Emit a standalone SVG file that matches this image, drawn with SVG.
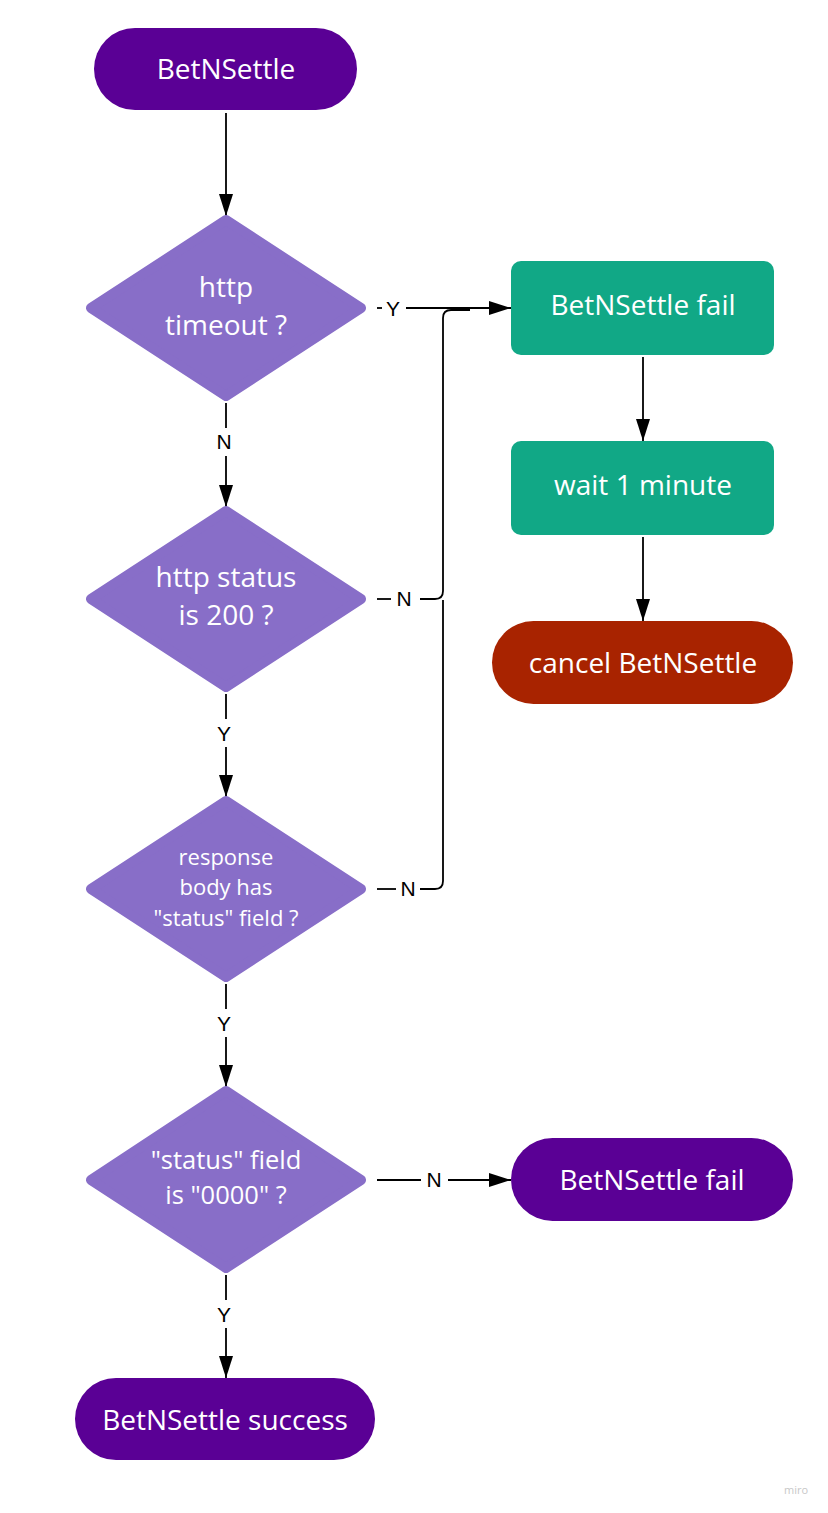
<svg xmlns="http://www.w3.org/2000/svg" width="828" height="1513" viewBox="0 0 828 1513">
<defs>
<style>
.t{font-family:"Open Sans","Liberation Sans",sans-serif;fill:#ffffff;text-anchor:middle}
.big{font-size:28px}
.md{font-size:25.5px}
.sm{font-size:22px}
.dia{fill:#886ec8;stroke:#886ec8;stroke-width:10;stroke-linejoin:round}
.dp{fill:#5a0095}
.teal{fill:#11a886}
.red{fill:#a82300}
.c{fill:none;stroke:#000;stroke-width:1.8}
.lb{font-family:"Liberation Sans",Arial,sans-serif;font-size:21px;fill:#000;text-anchor:middle}
</style>
<marker id="ah" viewBox="0 0 22 14" refX="22" refY="7" markerWidth="22" markerHeight="14" markerUnits="userSpaceOnUse" orient="auto">
<path d="M0,0 L22,7 L0,14 Z" fill="#000"/>
</marker>
</defs>
<rect width="828" height="1513" fill="#fff"/>
<g id="connectors">
<path class="c" d="M226,113 V216" marker-end="url(#ah)"/>
<path class="c" d="M226,403 V428"/>
<path class="c" d="M226,456 V507" marker-end="url(#ah)"/>
<path class="c" d="M226,694 V719"/>
<path class="c" d="M226,747 V797" marker-end="url(#ah)"/>
<path class="c" d="M226,984 V1009"/>
<path class="c" d="M226,1037 V1087" marker-end="url(#ah)"/>
<path class="c" d="M226,1275 V1300"/>
<path class="c" d="M226,1328 V1378" marker-end="url(#ah)"/>
<path class="c" d="M377,308 H382"/>
<path class="c" d="M406,308 H511" marker-end="url(#ah)"/>
<path class="c" d="M377,599 H391"/>
<path class="c" d="M420,599 H435 Q443,599 443,591 V318 Q443,310 451,310 H470"/>
<path class="c" d="M377,889 H396"/>
<path class="c" d="M420,889 H435 Q443,889 443,881 V600"/>
<path class="c" d="M377,1180 H421"/>
<path class="c" d="M448,1180 H511" marker-end="url(#ah)"/>
<path class="c" d="M643,357 V441" marker-end="url(#ah)"/>
<path class="c" d="M643,537 V621" marker-end="url(#ah)"/>
<text class="lb" x="224" y="449">N</text>
<text class="lb" x="224" y="741">Y</text>
<text class="lb" x="224" y="1031">Y</text>
<text class="lb" x="224" y="1322">Y</text>
<text class="lb" x="393" y="316">Y</text>
<text class="lb" x="404" y="606">N</text>
<text class="lb" x="408" y="896">N</text>
<text class="lb" x="434" y="1187">N</text>
</g>
<g id="start">
<rect class="dp" x="94" y="28" width="263" height="82" rx="41"/>
<text class="t big" x="226" y="79">BetNSettle</text>
</g>
<g id="d1">
<polygon class="dia" points="226,220 361,308 226,396 91,308"/>
<text class="t big" x="226" y="297">http</text>
<text class="t big" x="226" y="335">timeout ?</text>
</g>
<g id="d2">
<polygon class="dia" points="226,511 361,599 226,687 91,599"/>
<text class="t big" x="226" y="587">http status</text>
<text class="t big" x="226" y="625">is 200 ?</text>
</g>
<g id="d3">
<polygon class="dia" points="226,801 361,889 226,977 91,889"/>
<text class="t sm" x="226" y="865">response</text>
<text class="t sm" x="226" y="895">body has</text>
<text class="t sm" x="226" y="926">"status" field ?</text>
</g>
<g id="d4">
<polygon class="dia" points="226,1091 361,1180 226,1268 91,1180"/>
<text class="t md" x="226" y="1169">"status" field</text>
<text class="t md" x="226" y="1204">is "0000" ?</text>
</g>
<g id="fail1">
<rect class="teal" x="511" y="261" width="263" height="94" rx="10"/>
<text class="t big" x="643" y="315">BetNSettle fail</text>
</g>
<g id="wait">
<rect class="teal" x="511" y="441" width="263" height="94" rx="10"/>
<text class="t big" x="643" y="495">wait 1 minute</text>
</g>
<g id="cancel">
<rect class="red" x="492" y="621" width="301" height="83" rx="41.5"/>
<text class="t big" x="643" y="673">cancel BetNSettle</text>
</g>
<g id="fail2">
<rect class="dp" x="511" y="1138" width="282" height="83" rx="41.5"/>
<text class="t big" x="652" y="1190">BetNSettle fail</text>
</g>
<g id="success">
<rect class="dp" x="75" y="1378" width="300" height="82" rx="41"/>
<text class="t big" x="225" y="1430">BetNSettle success</text>
</g>
<text x="796" y="1494" font-family="Open Sans, sans-serif" font-size="11" fill="#c8c8c8" text-anchor="middle">miro</text>
</svg>
